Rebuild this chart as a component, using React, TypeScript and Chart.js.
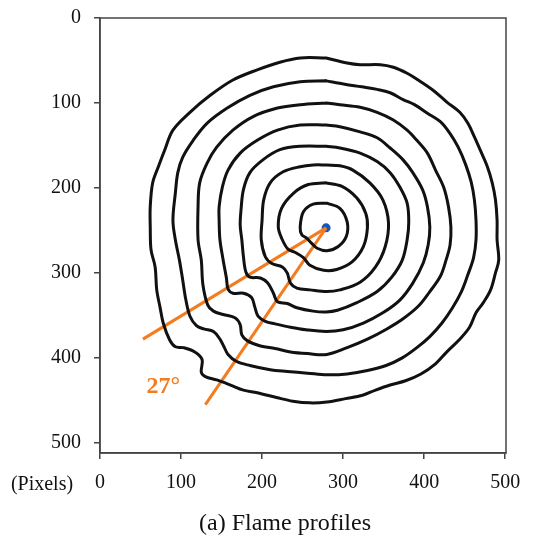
import React, { useEffect, useRef } from "react";
import { Chart, registerables } from "chart.js";

Chart.register(...registerables);

// ---- axis data ----
const xTicks = [0, 100, 200, 300, 400, 500];
const yTicks = [0, 100, 200, 300, 400, 500];
const xRange = [0, 501];
const yRange = [0, 512];
const axisUnit = "(Pixels)";
const caption = "(a) Flame profiles";

// ---- flame profile contours (pixel coordinates) ----
const ring1X = [280, 296, 305, 304, 294, 280, 268, 261, 255, 249, 247, 251, 263];
const ring1Y = [218, 224, 240, 257, 269, 274, 271, 265, 259, 255, 246, 228, 219];

const ring2X = [278, 298, 317, 328, 330, 325, 311, 292, 276, 259, 251, 241, 232, 225, 220, 224, 239, 257];
const ring2Y = [194, 198, 212, 230, 247, 269, 287, 296, 297, 291, 282, 276, 272, 261, 246, 224, 206, 196];

const ring3X = [280, 296, 312, 333, 349, 356, 352, 340, 321, 296, 280, 259, 243, 235, 231, 225, 212, 204, 199, 200, 202, 210, 226, 247, 263];
const ring3Y = [173, 174, 179, 194, 214, 241, 269, 293, 311, 320, 322, 320, 318, 312, 300, 293, 289, 281, 261, 238, 214, 194, 181, 175, 173];

const ring4X = [279, 296, 321, 342, 358, 370, 379, 381, 379, 373, 360, 342, 317, 293, 279, 263, 243, 231, 219, 214, 207, 198, 185, 180, 177, 175, 173, 174, 177, 185, 201, 222, 247];
const ring4Y = [151, 153, 159, 169, 182, 199, 218, 240, 261, 285, 305, 322, 335, 344, 346, 345, 341, 336, 334, 324, 312, 306, 305, 299, 281, 261, 244, 226, 202, 182, 167, 155, 151];

const ring5X = [279, 296, 321, 342, 358, 374, 386, 398, 404, 407, 405, 399, 386, 370, 349, 325, 300, 279, 254, 235, 216, 204, 195, 191, 187, 177, 164, 158, 156, 152, 148, 147, 147, 151, 158, 173, 194, 219, 247];
const ring5Y = [126, 128, 134, 141, 153, 167, 182, 202, 222, 246, 267, 288, 312, 332, 347, 359, 367, 369, 367, 364, 360, 357, 351, 340, 329, 324, 324, 319, 306, 285, 261, 238, 222, 199, 179, 159, 144, 132, 126];

const ring6X = [279, 296, 321, 342, 362, 379, 391, 404, 414, 424, 430, 433, 432, 427, 420, 407, 393, 374, 354, 330, 305, 280, 256, 235, 216, 198, 182, 175, 173, 167, 152, 140, 133, 127, 125, 121, 121, 123, 132, 144, 164, 189, 219, 247];
const ring6Y = [100, 102, 105, 111, 120, 132, 144, 159, 179, 199, 222, 246, 267, 285, 304, 322, 339, 354, 366, 378, 388, 396, 395, 393, 389, 386, 380, 373, 361, 353, 349, 345, 338, 314, 285, 261, 222, 194, 171, 152, 132, 116, 106, 102];

const ring7X = [279, 302, 323, 342, 358, 374, 388, 404, 420, 432, 442, 451, 458, 462, 464, 464, 461, 454, 446, 435, 422, 407, 391, 373, 353, 330, 305, 280, 256, 231, 210, 185, 168, 158, 153, 148, 140, 128, 119, 111, 106, 102, 98, 93, 90, 93, 96, 102, 115, 132, 157, 185, 214, 247];
const ring7Y = [74, 78, 81, 84, 88, 96, 102, 112, 122, 136, 152, 172, 193, 214, 238, 261, 282, 302, 322, 341, 359, 375, 388, 400, 409, 415, 419, 420, 418, 416, 414, 409, 404, 396, 387, 378, 369, 366, 362, 351, 332, 308, 285, 261, 238, 206, 182, 164, 144, 124, 106, 91, 81, 75];

const ring8X = [279, 305, 321, 346, 362, 379, 391, 411, 428, 444, 454, 462, 469, 478, 484, 488, 490, 490, 492, 488, 482, 473, 464, 456, 443, 428, 414, 396, 377, 358, 340, 324, 303, 280, 259, 238, 219, 194, 177, 161, 144, 130, 125, 126, 117, 103, 93, 86, 78, 74, 70, 68, 63, 62, 62, 65, 72, 80, 90, 111, 136, 164, 194, 222, 247];
const ring8Y = [47, 53, 55, 55, 58, 65, 72, 85, 99, 111, 124, 140, 155, 175, 194, 214, 238, 261, 285, 300, 320, 335, 347, 364, 379, 393, 407, 419, 427, 432, 438, 444, 448, 452, 453, 451, 447, 441, 438, 432, 426, 422, 417, 402, 393, 388, 387, 379, 359, 340, 320, 293, 273, 246, 222, 194, 175, 155, 132, 111, 91, 73, 61, 52, 47];

const ringsX = [ring1X, ring2X, ring3X, ring4X, ring5X, ring6X, ring7X, ring8X];
const ringsY = [ring1Y, ring2Y, ring3Y, ring4Y, ring5Y, ring6Y, ring7Y, ring8Y];

// ---- ignition centre, 27° sector rays and label ----
const centre = [279, 247];
const ray1End = [53, 378];
const ray2End = [130, 455];
const angleLabel = "27°";
const angleLabelPos = [78, 441];

const ORANGE = "#F47C20";
const BLUE = "#1457B8";
const AXIS = "#444444";
const SERIF = '"Liberation Serif", "Times New Roman", serif';

function closedRing(xs: number[], ys: number[]) {
  const pts = xs.map((x, i) => ({ x, y: ys[i] }));
  pts.push({ x: xs[0], y: ys[0] });
  return pts;
}

const overlay = {
  id: "overlay",
  afterDraw(chart: any) {
    const { ctx, chartArea: a, scales } = chart;
    const sx = scales.x;
    const sy = scales.y;
    ctx.save();
    ctx.strokeStyle = AXIS;
    ctx.lineWidth = 1.5;
    ctx.strokeRect(a.left, a.top, a.right - a.left, a.bottom - a.top);

    ctx.fillStyle = ORANGE;
    ctx.font = `bold 24px ${SERIF}`;
    ctx.textAlign = "center";
    ctx.textBaseline = "alphabetic";
    ctx.fillText(angleLabel, sx.getPixelForValue(angleLabelPos[0]), sy.getPixelForValue(angleLabelPos[1]));

    ctx.fillStyle = "#111";
    ctx.font = `20px ${SERIF}`;
    ctx.fillText(axisUnit, a.left - 58, a.bottom + 37);

    ctx.font = `24px ${SERIF}`;
    ctx.fillText(caption, a.left + 185, a.bottom + 77);
    ctx.restore();
  },
};

export default function App() {
  const ref = useRef<HTMLCanvasElement | null>(null);

  useEffect(() => {
    if (!ref.current) return;
    const ringSets = ringsX.map((xs, i) => ({
      data: closedRing(xs, ringsY[i]),
      showLine: true,
      borderColor: "#111111",
      borderWidth: 3,
      pointRadius: 0,
      tension: 0.35,
      borderJoinStyle: "round" as const,
      borderCapStyle: "round" as const,
    }));
    const rays = [ray1End, ray2End].map((end) => ({
      data: [
        { x: centre[0], y: centre[1] },
        { x: end[0], y: end[1] },
      ],
      showLine: true,
      borderColor: ORANGE,
      borderWidth: 3,
      pointRadius: 0,
      tension: 0,
    }));
    const dot = {
      data: [{ x: centre[0], y: centre[1] }],
      showLine: false,
      pointRadius: 4.5,
      pointBackgroundColor: BLUE,
      pointBorderColor: BLUE,
      pointBorderWidth: 0,
    };

    const tickFont = { family: SERIF, size: 20 };
    const chart = new Chart(ref.current, {
      type: "scatter",
      data: { datasets: [...ringSets, ...rays, dot] as any },
      options: {
        responsive: false,
        animation: false,
        layout: { padding: { left: 0, right: 42, top: 18, bottom: 33 } },
        plugins: { legend: { display: false }, tooltip: { enabled: false } },
        scales: {
          x: {
            type: "linear",
            min: xRange[0],
            max: xRange[1],
            afterBuildTicks: (s: any) => {
              s.ticks = xTicks.map((v) => ({ value: v }));
            },
            afterFit: (s: any) => {
              s.height = 50;
              s.paddingLeft = 0;
              s.paddingRight = 0;
            },
            grid: {
              drawOnChartArea: false,
              drawTicks: true,
              tickLength: 6,
              color: AXIS,
              lineWidth: 1.5,
            },
            border: { display: true, color: AXIS, width: 1.5 },
            ticks: { font: tickFont, color: "#111", padding: 12, maxRotation: 0 },
          },
          y: {
            type: "linear",
            reverse: true,
            min: yRange[0],
            max: yRange[1],
            afterBuildTicks: (s: any) => {
              s.ticks = yTicks.map((v) => ({ value: v }));
            },
            afterFit: (s: any) => {
              s.width = 100;
              s.paddingTop = 0;
              s.paddingBottom = 0;
            },
            grid: {
              drawOnChartArea: false,
              drawTicks: true,
              tickLength: 6,
              color: AXIS,
              lineWidth: 1.5,
            },
            border: { display: true, color: AXIS, width: 1.5 },
            ticks: { font: tickFont, color: "#111", padding: 13 },
          },
        },
      },
      plugins: [overlay],
    });
    return () => chart.destroy();
  }, []);

  return (
    <div style={{ position: "absolute", left: 0, top: 0, width: 548, height: 536, background: "#fff" }}>
      <canvas ref={ref} width={548} height={536} style={{ display: "block" }} />
    </div>
  );
}
